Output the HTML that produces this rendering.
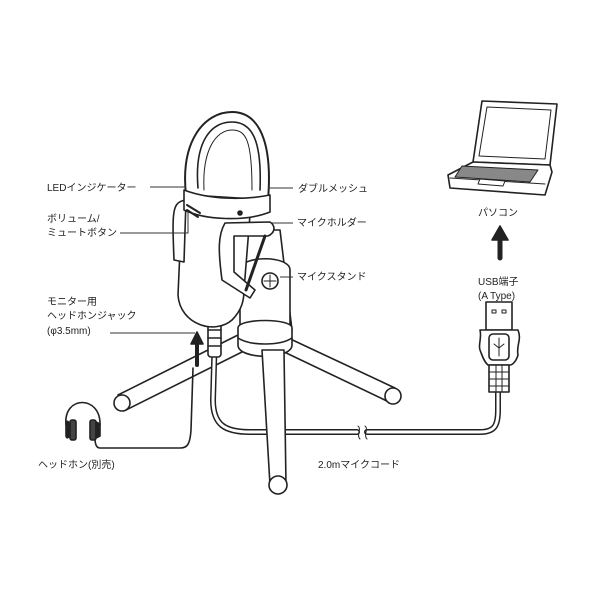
<!DOCTYPE html>
<html><head><meta charset="utf-8"><style>
html,body{margin:0;padding:0;background:#fff;}
svg{display:block;}
text{font-family:"Liberation Sans","Noto Sans CJK JP",sans-serif;font-size:10px;fill:#222;}
</style></head><body>
<svg width="600" height="600" viewBox="0 0 600 600" xmlns="http://www.w3.org/2000/svg">
<g fill="#fff" stroke="#222" stroke-width="1.6" stroke-linejoin="round" stroke-linecap="round">
<!-- legs -->
<path d="M238,335 L118,395 L126,410 L246,350 Z"/>
<ellipse cx="122" cy="403" rx="8" ry="8"/>
<path d="M284,336 L395,388 L389,402 L280,350 Z"/>
<ellipse cx="393" cy="396" rx="8" ry="8"/>
<!-- cable from mic -->
<path d="M215,330 L213,400 C213,425 225,432 250,432 L357,432" fill="none" stroke-width="6"/>
<path d="M215,330 L213,400 C213,425 225,432 250,432 L357,432" fill="none" stroke="#fff" stroke-width="3"/>
<path d="M367,432 L480,432 C495,432 498,425 498,410 L498,392" fill="none" stroke-width="6"/>
<path d="M367,432 L480,432 C495,432 498,425 498,410 L498,392" fill="none" stroke="#fff" stroke-width="3"/>
<path d="M358,426 C362,429 356,435 360,439 M365,426 C369,429 363,435 367,439" fill="none" stroke-width="1"/>
<rect x="208" y="322" width="13" height="35" rx="3"/>
<path d="M208,330h13M208,338h13M208,346h13" fill="none"/>
<!-- stand -->
<path d="M248,230 L280,230 L292,330 L240,330 Z"/>
<path d="M240,270 C240,255 290,255 290,270 L290,328 L240,328 Z"/>
<path d="M238,328 C238,318 292,318 292,328 L292,345 C292,360 238,360 238,345 Z"/>
<path d="M238,338 C250,346 280,346 292,338" fill="none"/>
<circle cx="270" cy="281" r="8"/>
<path d="M264,281h12M270,275v12" fill="none" stroke-width="1"/>
<!-- front leg -->
<path d="M262,350 L284,350 L286,485 L270,485 Z"/>
<ellipse cx="278" cy="485" rx="9" ry="9"/>
<!-- mic body -->
<path d="M182,205 L178,295 C180,325 215,335 232,320 C242,310 244,300 244,290 L250,215 Z"/>
<path d="M186,200 C172,202 172,210 174,260 L184,262 Z"/>
<!-- head -->
<path d="M186,195 C180,140 205,112 232,112 C258,112 273,140 268,200 Z" stroke-width="2"/>
<path d="M198,188 C194,140 212,122 232,122 C252,122 262,140 260,190" fill="none"/>
<path d="M204,190 C202,150 216,130 232,130 C246,130 252,140 252,190" fill="none" stroke-width="1"/>
<!-- band -->
<path d="M184,190 C210,200 245,200 270,195 L270,212 C245,222 205,220 184,210 Z"/>
<circle cx="240" cy="213" r="2" fill="#222"/>
<path d="M187,205 L200,213 M187,210 L198,217" stroke-width="2"/>
<!-- holder -->
<path d="M225,223 L270,222 C276,226 275,233 268,236 L234,236 L234,272 L255,290 L250,298 L222,280 C218,250 218,235 225,223 Z"/>
<path d="M265,236 L246,290" stroke-width="3"/>
<!-- jack arrow -->
<path d="M197,365 L197,342" stroke-width="4" fill="none"/>
<path d="M191,344 L197,332 L203,344 Z" fill="#222"/>
<!-- headphone cable -->
<path d="M193,368 L191,430 C190,445 187,448 180,448 L100,448 C95,448 95,440 95,438" fill="none" stroke-width="1.6"/>
<!-- headphones -->
<path d="M66,425 C63,395 101,395 100,425" fill="none" stroke-width="1.6"/>
<path d="M70,428 C70,422 66,418 66,425 L66,435 C66,440 70,438 70,432 Z" fill="#222"/>
<rect x="70" y="420" width="6" height="20" rx="2" fill="#444"/>
<rect x="90" y="420" width="6" height="20" rx="2" fill="#444"/>
<path d="M96,422 L100,424 L100,436 L96,438 Z" fill="#222"/>
<!-- USB -->
<rect x="486" y="302" width="26" height="28"/>
<rect x="492" y="310" width="4" height="3" stroke-width="1"/>
<rect x="502" y="310" width="4" height="3" stroke-width="1"/>
<path d="M480,330 L518,330 C522,340 516,345 518,355 C516,362 512,365 510,365 L488,365 C484,362 482,355 480,350 C478,345 482,338 480,330 Z"/>
<rect x="489" y="334" width="20" height="26" rx="4"/>
<path d="M499,338 v18 M494,344 l5,4 l5,-4" fill="none" stroke-width="1"/>
<rect x="489" y="365" width="20" height="27"/>
<path d="M489,372h20M489,379h20M489,386h20M496,365v27M502,365v27" stroke-width="1" fill="none"/>
<!-- laptop arrow -->
<path d="M500,258 L500,238" stroke-width="5" fill="none"/>
<path d="M492,240 L500,226 L508,240 Z" fill="#222"/>
<!-- laptop -->
<path d="M482,101 L557,104 L550,165 L473,162 Z"/>
<path d="M487,107 L551,110 L545,159 L479,156 Z" stroke-width="1"/>
<path d="M473,162 L550,165 L552,172 L545,195 L450,188 L448,175 Z"/>
<path d="M450,178 L545,184" fill="none" stroke-width="1"/>
<path d="M462,166 L538,170 L530,182 L455,177 Z" fill="#888" stroke-width="1"/>
<path d="M480,179 L505,181 L503,186 L478,184 Z" stroke-width="1"/>
</g>
<g stroke="#333" stroke-width="1" fill="none">
<path d="M150,187 H186"/>
<path d="M268,188 H293"/>
<path d="M120,233 H188 V212"/>
<path d="M272,223 H293"/>
<path d="M280,277 H293"/>
<path d="M110,333 H195"/>
</g>
<text x="47" y="191">LEDインジケーター</text>
<text x="298" y="192">ダブルメッシュ</text>
<text x="47" y="222">ボリューム/</text>
<text x="47" y="236">ミュートボタン</text>
<text x="297" y="226">マイクホルダー</text>
<text x="297" y="280">マイクスタンド</text>
<text x="47" y="305">モニター用</text>
<text x="47" y="319">ヘッドホンジャック</text>
<text x="47" y="334">(φ3.5mm)</text>
<text x="38" y="468">ヘッドホン(別売)</text>
<text x="318" y="468">2.0mマイクコード</text>
<text x="478" y="216">パソコン</text>
<text x="478" y="285">USB端子</text>
<text x="478" y="299">(A Type)</text>
</svg>
</body></html>
